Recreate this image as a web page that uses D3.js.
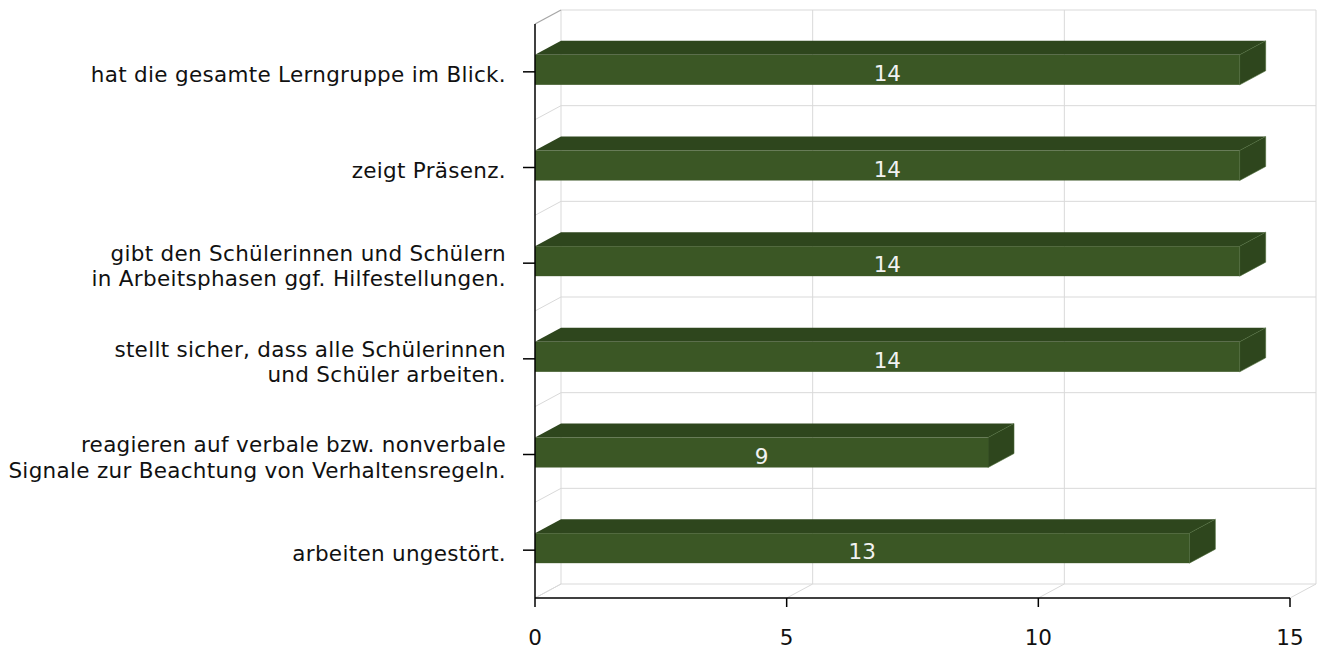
<!DOCTYPE html>
<html><head><meta charset="utf-8">
<script src="https://cdn.jsdelivr.net/npm/d3@7"></script>
<style>body{margin:0;background:#fff}svg{display:block}text{font-family:"DejaVu Sans",Verdana,sans-serif}</style>
</head><body>
<script>
const categories = [
  "hat die gesamte Lerngruppe im Blick.",
  "zeigt Präsenz.",
  "gibt den Schülerinnen und Schülern\nin Arbeitsphasen ggf. Hilfestellungen.",
  "stellt sicher, dass alle Schülerinnen\nund Schüler arbeiten.",
  "reagieren auf verbale bzw. nonverbale\nSignale zur Beachtung von Verhaltensregeln.",
  "arbeiten ungestört."
];
const values = [14, 14, 14, 14, 9, 13];
const tickValues = [0, 5, 10, 15];

const W = 1320, H = 653;
const DX = 26, DY = -14;
const FS = 21.5;
const x = d3.scaleLinear().domain([0, 15]).range([535, 1290]);
const y = d3.scaleBand().domain(categories).range([24, 598]).padding(0);
const svg = d3.select("body").append("svg").attr("width", W).attr("height", H);

const grid = "#d9d9d9";
const x0 = x(0), x1 = x(15), yT = y.range()[0], yB = y.range()[1];
const g = svg.append("g");
// back wall vertical grid and floor diagonals
tickValues.forEach(t => {
  g.append("line").attr("x1", x(t) + DX).attr("x2", x(t) + DX).attr("y1", yT + DY).attr("y2", yB + DY).attr("stroke", grid);
  g.append("line").attr("x1", x(t)).attr("x2", x(t) + DX).attr("y1", yB).attr("y2", yB + DY).attr("stroke", grid);
});
// back wall horizontal grid & left wall diagonals
const bounds = categories.map(c => y(c)).concat([yB]);
bounds.forEach((b, i) => {
  g.append("line").attr("x1", x0 + DX).attr("x2", x1 + DX).attr("y1", b + DY).attr("y2", b + DY).attr("stroke", grid);
  g.append("line").attr("x1", x0).attr("x2", x0 + DX).attr("y1", b).attr("y2", b + DY)
    .attr("stroke", i === 0 ? "#a6a6a6" : grid).attr("stroke-width", i === 0 ? 1.3 : 1);
});

// bars
const front = "#3b5725", dark = "#2e461d";
const bars = svg.append("g").selectAll("g").data(categories).join("g");
bars.each(function (c, i) {
  const sel = d3.select(this);
  const cy = y(c) + y.bandwidth() / 2;
  const top = cy - 17, bot = cy + 13;
  const xl = x(0), xr = x(values[i]);
  sel.append("polygon").attr("points", [[xl, top], [xl + DX, top + DY], [xr + DX, top + DY], [xr, top]].join(" "))
    .attr("fill", dark);
  sel.append("polygon").attr("points", [[xr, top], [xr + DX, top + DY], [xr + DX, bot + DY], [xr, bot]].join(" "))
    .attr("fill", dark).attr("stroke", "#4a6a35").attr("stroke-width", 0.6);
  sel.append("rect").attr("x", xl).attr("y", top).attr("width", xr - xl).attr("height", bot - top).attr("fill", front);
  sel.append("text").attr("x", (xl + xr) / 2).attr("y", cy + 9).attr("text-anchor", "middle")
    .attr("fill", "#f2f2f2").attr("font-size", FS).text(values[i]);
});

// axes
const ax = svg.append("g");
ax.append("line").attr("x1", x0).attr("x2", x0).attr("y1", yT).attr("y2", yB).attr("stroke", "#000").attr("stroke-width", 1.5);
ax.append("line").attr("x1", x0).attr("x2", x1).attr("y1", yB).attr("y2", yB).attr("stroke", "#000").attr("stroke-width", 1.5);
tickValues.forEach(t => {
  ax.append("line").attr("x1", x(t)).attr("x2", x(t)).attr("y1", yB).attr("y2", yB + 9).attr("stroke", "#000").attr("stroke-width", 1.5);
  ax.append("text").attr("x", x(t)).attr("y", 645).attr("text-anchor", "middle").attr("font-size", FS).attr("fill", "#111").text(t);
});
categories.forEach(c => {
  const cy = y(c) + y.bandwidth() / 2;
  ax.append("line").attr("x1", x0 - 12).attr("x2", x0).attr("y1", cy).attr("y2", cy).attr("stroke", "#000").attr("stroke-width", 1.5);
  const lines = c.split("\n");
  const lh = 25.6;
  const t = ax.append("text").attr("text-anchor", "end").attr("font-size", FS).attr("fill", "#111")
    .attr("letter-spacing", 0.3);
  lines.forEach((l, k) => {
    t.append("tspan").attr("x", 506).attr("y", cy + 10.5 + (k - (lines.length - 1) / 2) * lh).text(l);
  });
});
</script>
</body></html>
